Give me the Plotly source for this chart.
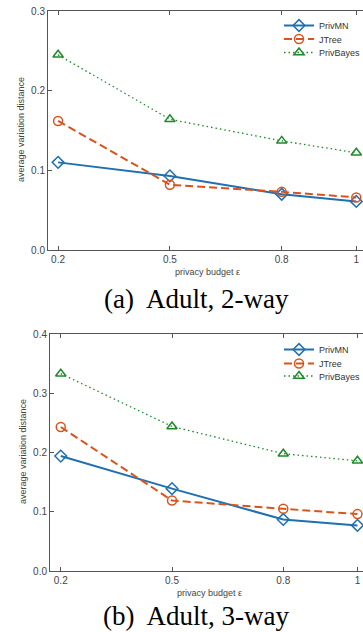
import plotly.graph_objects as go

# ---- data ----
budgets = [0.2, 0.5, 0.8, 1.0]
x_tick_vals = [0.2, 0.5, 0.8, 1.0]
x_tick_text = ["0.2", "0.5", "0.8", "1"]

# (a) Adult, 2-way
privmn_2way = [0.110, 0.093, 0.070, 0.061]
jtree_2way = [0.162, 0.082, 0.073, 0.066]
privbayes_2way = [0.245, 0.164, 0.137, 0.122]

# (b) Adult, 3-way
privmn_3way = [0.194, 0.139, 0.087, 0.077]
jtree_3way = [0.243, 0.119, 0.105, 0.096]
privbayes_3way = [0.333, 0.244, 0.198, 0.186]

series_names = ["PrivMN", "JTree", "PrivBayes"]
y2_ticks = [0.0, 0.1, 0.2, 0.3]
y3_ticks = [0.0, 0.1, 0.2, 0.3, 0.4]

captions = ["(a)  Adult, 2-way", "(b)  Adult, 3-way"]
x_title = "privacy budget ε"
y_title = "average variation distance"

# ---- styles ----
BLUE = "#1f70b0"
ORANGE = "#d9541c"
GREEN = "#1d8a2a"
styles = [
    dict(color=BLUE, dash="solid", width=2, symbol="diamond-open"),
    dict(color=ORANGE, dash="8px,4px", width=2, symbol="circle-open"),
    dict(color=GREEN, dash="1.5px,3px", width=1.3, symbol="triangle-up-open"),
]

W, H = 363, 632
fig = go.Figure()

def add_series(ys, xaxis, yaxis, legends):
    for name, y, st, lg in zip(series_names, ys, styles, legends):
        fig.add_trace(go.Scatter(
            x=budgets, y=y, name=name, mode="lines+markers",
            xaxis=xaxis, yaxis=yaxis, legend=lg,
            line=dict(color=st["color"], dash=st["dash"], width=st["width"]),
            marker=dict(symbol=st["symbol"], size=9, color=st["color"],
                        line=dict(width=1.5, color=st["color"])),
        ))

add_series([privmn_2way, jtree_2way, privbayes_2way], "x", "y",
           ["legend", "legend2", "legend3"])
add_series([privmn_3way, jtree_3way, privbayes_3way], "x2", "y2",
           ["legend4", "legend5", "legend6"])

AX = "#555555"
TICKFONT = dict(family="Liberation Sans, Arial, sans-serif", size=10, color="#444444")
TITLEFONT = dict(family="Liberation Sans, Arial, sans-serif", size=9, color="#444444")
LEGFONT = dict(family="Liberation Sans, Arial, sans-serif", size=9, color="#333333")

def xaxis_cfg(domain, anchor, rng):
    return dict(domain=domain, anchor=anchor, range=rng,
                tickvals=x_tick_vals, ticktext=x_tick_text,
                showline=True, linecolor=AX, linewidth=1, mirror="ticks",
                ticks="inside", ticklen=4, tickcolor=AX, tickfont=TICKFONT,
                showgrid=False, zeroline=False, fixedrange=True)

def yaxis_cfg(domain, anchor, rng, ticks):
    return dict(domain=domain, anchor=anchor, range=rng,
                tickvals=ticks, tickformat=".1f",
                showline=True, linecolor=AX, linewidth=1, mirror=False,
                ticks="inside", ticklen=4, tickcolor=AX, tickfont=TICKFONT,
                showgrid=False, zeroline=False, fixedrange=True)

def leg(ypx):
    return dict(x=279 / W, y=1 - ypx / H, xanchor="left", yanchor="middle",
                bgcolor="rgba(0,0,0,0)", font=LEGFONT, borderwidth=0)

fig.update_layout(
    width=W, height=H,
    margin=dict(l=0, r=0, t=0, b=0, autoexpand=False),
    paper_bgcolor="white", plot_bgcolor="white",
    xaxis=xaxis_cfg([48 / W, 1.0], "y", [0.173, 1.018]),
    yaxis=yaxis_cfg([1 - 250 / H, 1 - 11 / H], "x", [0, 0.3], y2_ticks),
    xaxis2=xaxis_cfg([50 / W, 1.0], "y2", [0.171, 1.015]),
    yaxis2=yaxis_cfg([1 - 571 / H, 1 - 334 / H], "x2", [0, 0.4], y3_ticks),
    legend=leg(25.5), legend2=leg(39), legend3=leg(52.5),
    legend4=leg(349.5), legend5=leg(363.5), legend6=leg(376),
    showlegend=True,
)

# axis titles
for xc, yc in [(207, 272), (209, 593)]:
    fig.add_annotation(text=x_title, xref="paper", yref="paper",
                       x=xc / W, y=1 - yc / H, xanchor="center", yanchor="middle",
                       showarrow=False, font=TITLEFONT)
for xc, yc in [(21, 130), (23, 452)]:
    fig.add_annotation(text=y_title, xref="paper", yref="paper", textangle=-90,
                       x=xc / W, y=1 - yc / H, xanchor="center", yanchor="middle",
                       showarrow=False, font=TITLEFONT)

CAPFONT = dict(family="Liberation Serif, Times New Roman, serif", size=27, color="black")
fig.add_annotation(text=captions[0], xref="paper", yref="paper",
                   x=196 / W, y=1 - 299 / H, xanchor="center", yanchor="middle",
                   showarrow=False, font=CAPFONT, borderpad=0)
fig.add_annotation(text=captions[1], xref="paper", yref="paper",
                   x=196 / W, y=0, xanchor="center", yanchor="bottom",
                   showarrow=False, font=CAPFONT, borderpad=0)

fig.write_html("out.html", config={"displayModeBar": False},
               post_script="document.body.style.margin='0';document.body.style.overflow='hidden';")
